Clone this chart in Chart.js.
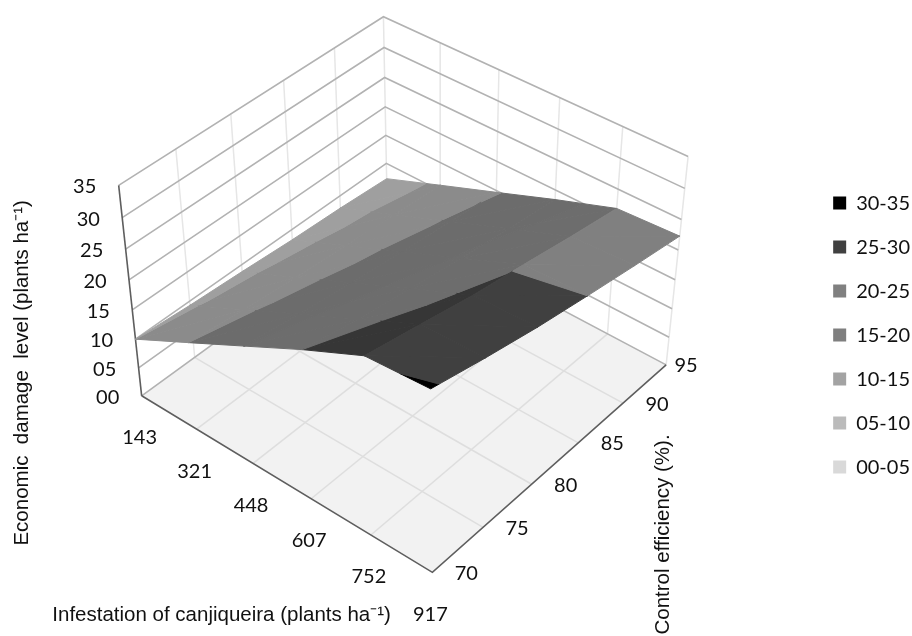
<!DOCTYPE html>
<html><head><meta charset="utf-8">
<style>html,body{margin:0;padding:0;background:#fff}#w{width:912px;height:636px;position:relative}</style>
<script src="https://cdn.jsdelivr.net/npm/chart.js@4"></script></head>
<body><div id="w"><canvas id="c" width="912" height="636"></canvas></div>
<script>
// ---- data ----
const infestation = ['143','321','448','607','752','917'];
const efficiency  = ['70','75','80','85','90','95'];
const levelTicks  = ['00','05','10','15','20','25','30','35'];
const bandLabels  = ['30-35','25-30','20-25','15-20','10-15','05-10','00-05'];
const level143 = [10.0, 9.3, 8.8, 8.2, 7.8, 7.2];
const level321 = [15.0,14.0,13.1,12.4,11.7,11.0];
const level448 = [20.0,18.7,17.5,16.5,15.6,14.7];
const level607 = [25.0,23.3,21.9,20.6,19.4,18.4];
const level752 = [29.65,27.9,26.1,24.7,23.2,21.85];
const level917 = [30.3,28.3,26.5,25.0,23.6,22.3];
const surface = [level143,level321,level448,level607,level752,level917];

// ---- styles and the 3-D view ----
const bandGreys = [0,64,128,127,163,187,217];
const facetShade = 0.85, zMax = 35, zBow = 0.92;
const floorQuad = [[141,396],[432,573],[666,365],[387,217]];
const topQuad   = [[118,185],[430,358],[688,156],[383,16]];
const hGrid='#b2b2b2', vGrid='#e6e6e6', floorGrid='#dedede', axisDark='#5e5e5e';
const tickFont='20px Lato', titleFont='20.5px "Liberation Sans"';

function homography(q){
  const [[x0,y0],[x1,y1],[x2,y2],[x3,y3]]=q;
  const dx1=x1-x2,dx2=x3-x2,sx=x0-x1+x2-x3,dy1=y1-y2,dy2=y3-y2,sy=y0-y1+y2-y3;
  const den=dx1*dy2-dx2*dy1,g=(sx*dy2-dx2*sy)/den,h=(dx1*sy-sx*dy1)/den;
  return (s,t)=>{const w=g*s+h*t+1;
    return [((x1-x0+g*x1)*s+(x3-x0+h*x3)*t+x0)/w,((y1-y0+g*y1)*s+(y3-y0+h*y3)*t+y0)/w];};
}
const floorH=homography(floorQuad), topH=homography(topQuad);
const N=infestation.length-1, M=efficiency.length-1;
function project(u,v,z){
  const a=floorH(u/N,v/M), b=topH(u/N,v/M), s=z/zMax, k=s*zBow/(s*zBow+1-s);
  return {x:a[0]+(b[0]-a[0])*k, y:a[1]+(b[1]-a[1])*k};
}
function clipBand(poly,lo,hi){
  const cut=(pts,keep,val)=>{const out=[];
    pts.forEach((p,i)=>{const q=pts[(i+1)%pts.length];
      if(keep(p[2]))out.push(p);
      if(keep(p[2])!==keep(q[2])){const f=(val-p[2])/(q[2]-p[2]);
        out.push([p[0]+(q[0]-p[0])*f,p[1]+(q[1]-p[1])*f,val]);}});
    return out;};
  let r=cut(poly,z=>z>=lo,lo); if(r.length) r=cut(r,z=>z<=hi,hi); return r;
}
let paint=1000;
const datasets=[];
bandLabels.forEach((l,i)=>{const g=bandGreys[i];
  datasets.push({label:l,data:[],backgroundColor:`rgb(${g},${g},${g})`,borderColor:`rgb(${g},${g},${g})`,borderWidth:0,order:-10+i,showLine:false,pointRadius:0});});
function addLine(pts,color,width){
  datasets.push({label:'',data:pts,showLine:true,borderColor:color,borderWidth:width,pointRadius:0,fill:false,tension:0,order:paint--,clip:false});
}
function addPoly(pts,color,edge){
  datasets.push({label:'',data:[...pts,pts[0]],showLine:true,borderColor:color,backgroundColor:color,borderWidth:edge,pointRadius:0,fill:'shape',tension:0,order:paint--,clip:false});
}
// floor
addPoly([project(0,0,0),project(N,0,0),project(N,M,0),project(0,M,0)],'#f2f2f2',0);
for(let i=1;i<N;i++) addLine([project(i,0,0),project(i,M,0)],floorGrid,1.5);
for(let j=1;j<M;j++) addLine([project(0,j,0),project(N,j,0)],floorGrid,1.5);
// walls
for(let j=1;j<=M;j++) addLine([project(0,j,0),project(0,j,zMax)],vGrid,1.5);
for(let i=1;i<=N;i++) addLine([project(i,M,0),project(i,M,zMax)],vGrid,1.5);
levelTicks.forEach(t=>{const z=+t; addLine([project(0,0,z),project(0,M,z),project(N,M,z)],hGrid,1.6);});
// axis edges
addLine([project(0,0,0),project(0,0,zMax)],axisDark,1.6);
addLine([project(0,0,0),project(N,0,0),project(N,M,0)],axisDark,1.6);
// surface, cut into value bands, back cells first
for(let j=M-1;j>=0;j--) for(let i=0;i<N;i++){
  const c=(a,b)=>[a,b,surface[a][b]];
  [[c(i,j),c(i+1,j),c(i+1,j+1)],[c(i,j),c(i+1,j+1),c(i,j+1)]].forEach(tri=>{
    bandLabels.forEach((l,b)=>{
      const [lo,hi]=l.split('-').map(Number);
      const part=clipBand(tri,lo,hi);
      if(part.length<3) return;
      const g=Math.round(bandGreys[b]*(i<N-1?facetShade:1));
      addPoly(part.map(p=>project(p[0],p[1],p[2])),`rgb(${g},${g},${g})`,1);
    });
  });
}
const textPlugin={id:'axisText',afterDatasetsDraw(chart){
  const {ctx,scales:{x,y}}=chart;
  const put=(text,px,py,font,rot)=>{ctx.save();ctx.translate(x.getPixelForValue(px),y.getPixelForValue(py));
    if(rot)ctx.rotate(rot);ctx.font=font;ctx.fillStyle='#111';ctx.textAlign='center';ctx.textBaseline='middle';ctx.fillText(text,0,0);ctx.restore();};
  levelTicks.forEach(t=>{const p=project(0,0,+t);put(t,p.x-34,p.y+1.5,tickFont);});
  infestation.forEach((t,i)=>{const p=project(i,0,0);put(t,p.x-2,p.y+42,tickFont);});
  efficiency.forEach((t,j)=>{const p=project(N,j,0);put(t,p.x+(j===M?20:34),p.y+1,tickFont);});
  put('Economic  damage  level (plants ha\u207B\u00B9)',22,373,titleFont,-Math.PI/2);
  put('Infestation of canjiqueira (plants ha\u207B\u00B9)',221,616,titleFont);
  put('Control efficiency (%).',663,535,titleFont,-Math.PI/2);
}};
const chart=new Chart(document.getElementById('c'),{
  type:'scatter',
  data:{datasets},
  plugins:[textPlugin],
  options:{responsive:false,animation:false,events:[],
    layout:{padding:{right:-8}},
    elements:{line:{capBezierPoints:false}},
    scales:{x:{type:'linear',display:false,min:0,max:912},y:{type:'linear',display:false,reverse:true,min:0,max:636}},
    plugins:{tooltip:{enabled:false},title:{display:false},
      legend:{display:true,position:'right',
        title:{display:true,text:' ',font:{size:1},padding:16.5},
        labels:{boxWidth:13,boxHeight:13,padding:24,color:'#111',font:{family:'Lato',size:20},filter:it=>it.datasetIndex<bandLabels.length}}}}
});
chart.options.scales.x.max=chart.chartArea.right;
chart.options.scales.y.max=chart.chartArea.bottom;
chart.update('none');
</script></body></html>
